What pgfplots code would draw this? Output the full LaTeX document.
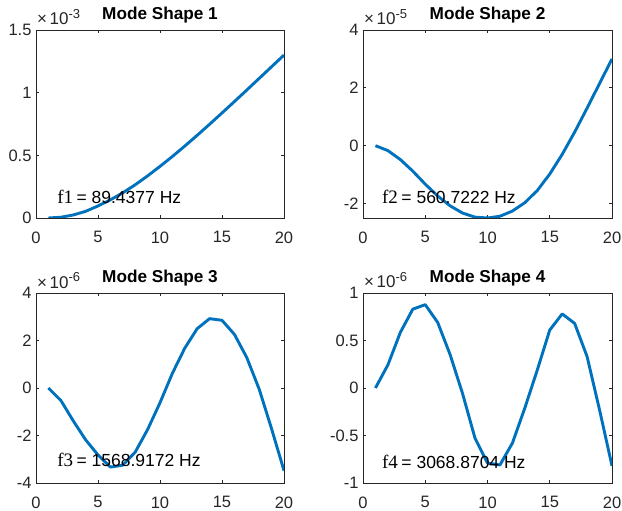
\documentclass[border=0pt]{standalone}
\usepackage{pgfplots}
\pgfplotsset{compat=1.18}
\usepackage{fontspec}
\setmainfont{Liberation Sans}
\newfontfamily\seriff{Liberation Serif}
\definecolor{mblue}{RGB}{0,114,189}
\definecolor{axgray}{RGB}{38,38,38}

\pgfplotstableread{
x y
1 0
2 0.006
3 0.024
4 0.053
5 0.096
6 0.145
7 0.201
8 0.265
9 0.336
10 0.412
11 0.491
12 0.574
13 0.660
14 0.748
15 0.838
16 0.929
17 1.021
18 1.114
19 1.207
20 1.300
}\modeone

\pgfplotstableread{
x y
1 0
2 -0.17
3 -0.48
4 -0.88
5 -1.33
6 -1.74
7 -2.08
8 -2.33
9 -2.47
10 -2.50
11 -2.44
12 -2.26
13 -1.97
14 -1.55
15 -0.98
16 -0.30
17 0.47
18 1.30
19 2.15
20 3.00
}\modetwo

\pgfplotstableread{
x y
1 0
2 -0.52
3 -1.38
4 -2.18
5 -2.82
6 -3.33
7 -3.25
8 -2.70
9 -1.75
10 -0.62
11 0.62
12 1.68
13 2.50
14 2.92
15 2.85
16 2.26
17 1.28
18 -0.05
19 -1.72
20 -3.48
}\modethree

\pgfplotstableread{
x y
1 0
2 0.243
3 0.585
4 0.83
5 0.877
6 0.69
7 0.35
8 -0.06
9 -0.53
10 -0.79
11 -0.81
12 -0.58
13 -0.21
14 0.19
15 0.61
16 0.78
17 0.68
18 0.33
19 -0.23
20 -0.82
}\modefour

\pgfplotsset{
  mline/.style={color=mblue, line width=2.9pt, line join=round, mark=none},
  mstyle/.style={
    scale only axis,
    anchor=south west,
    clip mode=individual,
    xmin=0, xmax=20,
    xtick={0,5,10,15,20},
    xticklabels={0,5,10,15,20},
    axis line style={axgray, line width=0.7pt},
    tick style={axgray, line width=0.7pt},
    tick align=inside,
    major tick length=3pt,
    ticklabel style={font=\fontsize{16.5}{19}\selectfont, text=axgray},
    xticklabel style={yshift=-10pt},
    yticklabel style={xshift=-1pt},
    title style={font=\bfseries\fontsize{17.2}{20}\selectfont, yshift=-3pt},
  }
}
\newcommand{\expo}[1]{\node[anchor=base west, text=axgray, font=\fontsize{17}{19}\selectfont, inner sep=0pt, yshift=5pt, xshift=1pt] at (rel axis cs:0,1) {×\hspace{2.5pt}10\raisebox{6.5pt}{\fontsize{13}{14}\selectfont #1}};}
\newcommand{\flabel}[3]{\node[anchor=west, inner sep=0pt, font=\fontsize{17.5}{19}\selectfont] at (rel axis cs:#1) {{\seriff\fontsize{19}{20}\selectfont #2}\hspace{3.5pt}= #3};}

\begin{document}
\begin{tikzpicture}
\useasboundingbox (0,0) rectangle (622pt,511pt);
% Mode 1
\begin{axis}[mstyle, at={(36pt,293pt)}, width=248pt, height=188pt,
  ymin=0, ymax=1.5, ytick={0,0.5,1,1.5}, yticklabels={0,0.5,1,1.5},
  title={Mode Shape 1}]
\addplot[mline] table {\modeone};
\expo{-3}
\flabel{0.085,0.11}{f1}{89.4377 Hz}
\end{axis}
% Mode 2
\begin{axis}[mstyle, at={(363pt,293pt)}, width=249pt, height=188pt,
  ymin=-2.5, ymax=4, ytick={-2,0,2,4}, yticklabels={-2,0,2,4},
  title={Mode Shape 2}]
\addplot[mline] table {\modetwo};
\expo{-5}
\flabel{0.076,0.11}{f2}{560.7222 Hz}
\end{axis}
% Mode 3
\begin{axis}[mstyle, at={(36pt,28pt)}, width=248pt, height=190pt,
  ymin=-4, ymax=4, ytick={-4,-2,0,2,4}, yticklabels={-4,-2,0,2,4},
  title={Mode Shape 3}]
\addplot[mline] table {\modethree};
\expo{-6}
\flabel{0.085,0.12}{f3}{1568.9172 Hz}
\end{axis}
% Mode 4
\begin{axis}[mstyle, at={(363pt,28pt)}, width=249pt, height=190pt,
  ymin=-1, ymax=1, ytick={-1,-0.5,0,0.5,1}, yticklabels={-1,-0.5,0,0.5,1},
  title={Mode Shape 4}]
\addplot[mline] table {\modefour};
\expo{-6}
\flabel{0.076,0.11}{f4}{3068.8704 Hz}
\end{axis}
\end{tikzpicture}
\end{document}
